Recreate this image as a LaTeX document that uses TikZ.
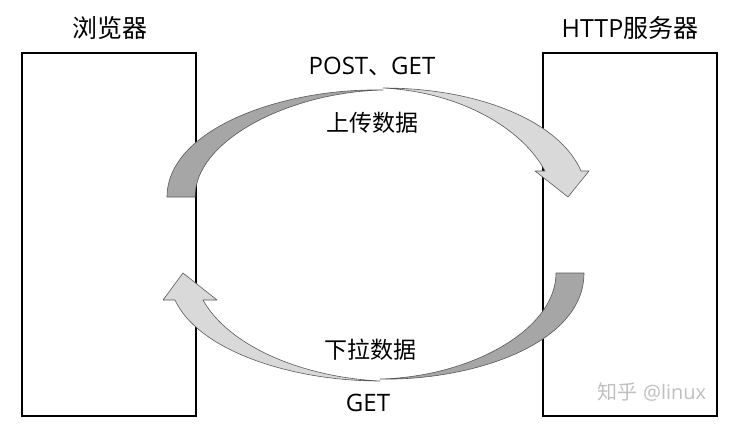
\documentclass[tikz,border=0pt]{standalone}
\usepackage{fontspec}
\setmainfont{Open Sans}
\newfontfamily\cjk{Noto Sans CJK SC}
\usepackage{tikz}
\usetikzlibrary{calc}

\begin{document}
\begin{tikzpicture}[x=1pt,y=-1pt,
  box/.style={draw=black,line width=1.4pt,minimum width=174pt,minimum height=363pt,inner sep=0pt},
  title/.style={font=\fontsize{25}{25}\selectfont},
  lbl/.style={font=\fontsize{24}{24}\selectfont},
  darkband/.style={fill=black!35,draw=black!65,line width=0.6pt,line join=round},
  lightband/.style={fill=black!15,draw=black!65,line width=0.6pt,line join=round}]
\useasboundingbox (0,0) rectangle (732,424);
% the two boxes
\node[box] (browser) at (109,234.5) {};
\node[box] (server) at (630,234.5) {};
\node[title] (browsertitle) at (110,28) {\cjk 浏览器};
\node[title] (servertitle) at (630,28) {HTTP{\cjk 服务器}};
% upper arrow, browser to server
\draw[darkband] (167,197) -- (195,197) .. controls (195,140) and (290,92) .. (383,90)
  .. controls (280,88) and (167,130) .. (167,197) -- cycle;
\draw[lightband] (383,88) .. controls (480,88) and (560,122) .. (581,171) -- (589,171)
  -- (568,197) -- (535,171) -- (545,171) .. controls (522,128) and (460,92) .. (383,88) -- cycle;
\node[lbl] (postget) at (372,66) {POST{\cjk\fontsize{23}{23}\selectfont 、}GET};
\node[lbl] (upload) at (372,123) {\cjk\fontsize{23}{23}\selectfont 上传数据};
% lower arrow, server to browser
\draw[darkband] (584,273) -- (556,273) .. controls (556,330) and (470,377) .. (380,379)
  .. controls (470,381) and (584,345) .. (584,273) -- cycle;
\draw[lightband] (380,381) .. controls (290,381) and (198,350) .. (175,300) -- (163,300)
  -- (183,273) -- (217,300) -- (203,300) .. controls (228,345) and (300,377) .. (380,381) -- cycle;
\node[lbl] (download) at (370,350) {\cjk\fontsize{23}{23}\selectfont 下拉数据};
\node[lbl] (get) at (368,403) {GET};
\node[font=\fontsize{20}{20}\selectfont,text=black!25] (mark) at (652,392) {{\cjk 知乎} @linux};
\end{tikzpicture}
\end{document}
